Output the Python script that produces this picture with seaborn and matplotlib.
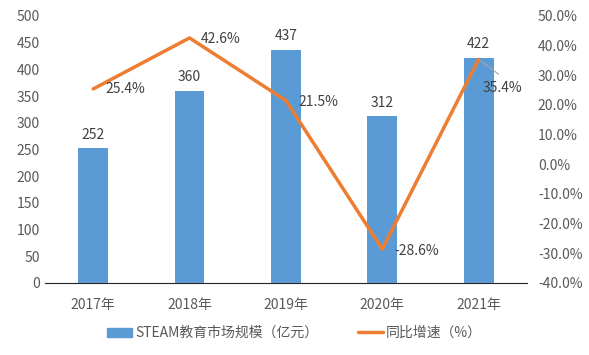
import matplotlib
matplotlib.use("Agg")
import matplotlib.pyplot as plt
import seaborn as sns
import pandas as pd
from matplotlib.ticker import FuncFormatter
from matplotlib.lines import Line2D
from matplotlib.patches import Patch

years = ["2017年", "2018年", "2019年", "2020年", "2021年"]
market_size = [252, 360, 437, 312, 422]
growth = [25.4, 42.6, 21.5, -28.6, 35.4]

BAR_LABEL = "STEAM教育市场规模（亿元）"
LINE_LABEL = "同比增速（%）"
BLUE = "#5B9BD5"
ORANGE = "#ED7D31"
TEXT = "#595959"

sns.set_style("white")
plt.rcParams["font.family"] = ["Noto Sans CJK SC", "DejaVu Sans"]

df = pd.DataFrame({"year": years, "size": market_size, "growth": growth})

fig = plt.figure(figsize=(5.89, 3.55), dpi=100)
ax = fig.add_axes([0.0764, 0.203, 0.818, 0.752])

sns.barplot(data=df, x="year", y="size", color=BLUE, width=0.31,
            saturation=1, linewidth=0, ax=ax)
ax.set_ylim(0, 500)
ax.set_yticks(range(0, 501, 50))
ax.set_xlabel("")
ax.set_ylabel("")
for b, v in zip(ax.patches, market_size):
    ax.text(b.get_x() + b.get_width() / 2, v + 12, str(v), ha="center",
            va="bottom", fontsize=10, color="#404040")

ax2 = ax.twinx()
ax2.plot(range(len(years)), growth, color=ORANGE, lw=2.5)
ax2.set_ylim(-40, 50)
ax2.set_yticks(range(-40, 51, 10))
ax2.yaxis.set_major_formatter(FuncFormatter(lambda v, p: f"{v:.1f}%"))

# label offsets in points
offsets = [(9, 0), (8, -1), (9, -1), (8.5, -1.5), (3, -21)]
for i, (g, off) in enumerate(zip(growth, offsets)):
    ax2.annotate(f"{g:.1f}%", (i, g), xytext=off, textcoords="offset points",
                 ha="left", va="center", fontsize=10, color="#404040")
# leader line for the last label
ax2.annotate("", (4, growth[4]), xytext=(16, -12), textcoords="offset points",
             arrowprops=dict(arrowstyle="-", color="#A6A6A6", lw=0.8))

for a in (ax, ax2):
    for s in ("top", "left", "right"):
        a.spines[s].set_visible(False)
    a.tick_params(length=0, labelsize=10, colors=TEXT)
ax.spines["bottom"].set_color("#D9D9D9")
ax.tick_params(axis="x", pad=11)
ax2.tick_params(axis="y", pad=8)
ax.set_xlim(-0.5, 4.5)

handles = [Patch(color=BLUE), Line2D([], [], color=ORANGE, lw=2.5)]
fig.legend(handles, [BAR_LABEL, LINE_LABEL], loc="center",
           bbox_to_anchor=(0.5, 0.062), ncol=2, frameon=False, fontsize=10,
           labelcolor=TEXT, handlelength=1.8, handleheight=0.6,
           columnspacing=2.8, handletextpad=0.25)

fig.savefig("out.png", dpi=100)
